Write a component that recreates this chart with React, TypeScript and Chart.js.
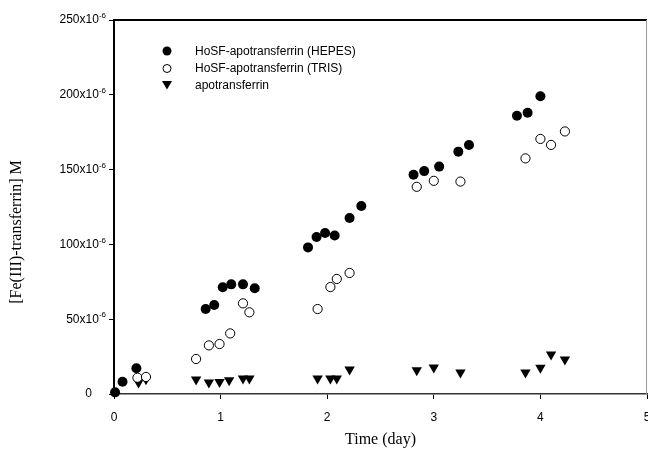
import React, { useEffect, useRef } from "react";
import { Chart, registerables } from "chart.js";

Chart.register(...registerables);

// Time (day) and [Fe(III)-transferrin] in units of 10^-6 M
const hepesX = [0.01, 0.08, 0.21, 0.86, 0.94, 1.02, 1.1, 1.21, 1.32, 1.82, 1.9, 1.98, 2.07, 2.21, 2.32, 2.81, 2.91, 3.05, 3.23, 3.33, 3.78, 3.88, 4.0];
const hepesY = [1.1, 8.2, 17.2, 56.8, 59.5, 71.3, 73.3, 73.3, 70.7, 98, 105, 107.6, 106, 117.6, 125.7, 146.5, 149, 152, 162, 166.5, 186, 188, 199];

const trisX = [0.22, 0.3, 0.77, 0.89, 0.99, 1.09, 1.21, 1.27, 1.91, 2.03, 2.09, 2.21, 2.84, 3.0, 3.25, 3.86, 4.0, 4.1, 4.23];
const trisY = [10.9, 11.4, 23.4, 32.5, 33.4, 40.5, 60.6, 54.6, 56.8, 71.5, 76.9, 80.9, 138.5, 142.5, 142, 157.5, 170.5, 166.5, 175.5];

const apoX = [0.23, 0.3, 0.77, 0.89, 0.99, 1.08, 1.21, 1.27, 1.91, 2.03, 2.09, 2.21, 2.84, 3.0, 3.25, 3.86, 4.0, 4.1, 4.23];
const apoY = [7.7, 9.9, 9.7, 7.7, 8.1, 9.2, 10.4, 10.4, 10.4, 10.4, 10.4, 16.4, 15.9, 17.7, 14.4, 14.4, 17.5, 26.4, 23.1];

const yTickValues = [0, 50, 100, 150, 200, 250];
const xTickValues = [0, 1, 2, 3, 4, 5];

const seriesLabels = ["HoSF-apotransferrin (HEPES)", "HoSF-apotransferrin (TRIS)", "apotransferrin"];
const xTitle = "Time (day)";
const yTitle = "[Fe(III)-transferrin] M";

const SANS = "'Liberation Sans', Arial, sans-serif";
const SERIF = "'Liberation Serif', 'Times New Roman', serif";

const toPoints = (xs: number[], ys: number[]) => xs.map((x, i) => ({ x, y: ys[i] }));

const decorPlugin = {
  id: "decor",
  afterDraw(chart: any) {
    const ctx = chart.ctx as CanvasRenderingContext2D;
    const area = chart.chartArea;
    const ys = chart.scales.y;
    const xs = chart.scales.x;
    ctx.save();
    // top and right frame
    ctx.strokeStyle = "#000";
    ctx.lineWidth = 2;
    ctx.beginPath();
    ctx.moveTo(area.left, area.top);
    ctx.lineTo(area.right, area.top);
    ctx.stroke();
    ctx.strokeStyle = "#999";
    ctx.lineWidth = 1;
    ctx.beginPath();
    ctx.moveTo(area.right - 0.5, area.top);
    ctx.lineTo(area.right - 0.5, area.bottom);
    ctx.stroke();

    // y tick labels with superscript exponent
    ctx.fillStyle = "#000";
    ctx.textBaseline = "middle";
    for (const v of yTickValues) {
      const py = ys.getPixelForValue(v);
      const right = area.left - 8;
      if (v === 0) {
        ctx.font = `12px ${SANS}`;
        ctx.textAlign = "right";
        ctx.fillText("0", right - 14, py);
        continue;
      }
      ctx.font = `8px ${SANS}`;
      const sup = "-6";
      const supW = ctx.measureText(sup).width;
      ctx.textAlign = "left";
      ctx.fillText(sup, right - supW, py - 4);
      ctx.font = `12px ${SANS}`;
      ctx.textAlign = "right";
      ctx.fillText(`${v}x10`, right - supW, py);
    }

    // x tick labels
    ctx.font = `12px ${SANS}`;
    ctx.textAlign = "center";
    ctx.textBaseline = "middle";
    for (const v of xTickValues) {
      ctx.fillText(String(v), xs.getPixelForValue(v), 418);
    }

    // axis titles
    ctx.font = `16px ${SERIF}`;
    ctx.textAlign = "center";
    ctx.textBaseline = "middle";
    ctx.fillText(xTitle, (area.left + area.right) / 2, 440);
    ctx.save();
    ctx.translate(17, 232);
    ctx.rotate(-Math.PI / 2);
    ctx.fillText(yTitle, 0, 0);
    ctx.restore();

    // legend
    const lx = 167;
    const tx = 195;
    const rows = [51, 68.5, 85];
    ctx.font = `12px ${SANS}`;
    ctx.textAlign = "left";
    ctx.textBaseline = "middle";
    rows.forEach((ry, i) => {
      ctx.fillStyle = "#000";
      ctx.strokeStyle = "#000";
      ctx.lineWidth = 1;
      if (i === 0) {
        ctx.beginPath();
        ctx.arc(lx, ry, 4.5, 0, Math.PI * 2);
        ctx.fill();
      } else if (i === 1) {
        ctx.beginPath();
        ctx.arc(lx, ry, 4, 0, Math.PI * 2);
        ctx.fillStyle = "#fff";
        ctx.fill();
        ctx.stroke();
      } else {
        ctx.beginPath();
        ctx.moveTo(lx - 5, ry - 4);
        ctx.lineTo(lx + 5, ry - 4);
        ctx.lineTo(lx, ry + 4.5);
        ctx.closePath();
        ctx.fill();
      }
      ctx.fillStyle = "#000";
      ctx.fillText(seriesLabels[i], tx, ry + 0.5);
    });
    ctx.restore();
  },
};

export default function App() {
  const ref = useRef<HTMLCanvasElement | null>(null);

  useEffect(() => {
    if (!ref.current) return;
    const chart = new Chart(ref.current, {
      type: "scatter",
      data: {
        datasets: [
          {
            label: seriesLabels[0],
            data: toPoints(hepesX, hepesY),
            pointStyle: "circle",
            pointRadius: 5,
            backgroundColor: "#000",
            borderColor: "#000",
            borderWidth: 0,
            clip: false,
          } as any,
          {
            label: seriesLabels[1],
            data: toPoints(trisX, trisY),
            pointStyle: "circle",
            pointRadius: 4.6,
            backgroundColor: "#fff",
            borderColor: "#000",
            borderWidth: 1,
            clip: false,
          } as any,
          {
            label: seriesLabels[2],
            data: toPoints(apoX, apoY),
            pointStyle: "triangle",
            pointRotation: 180,
            pointRadius: 6,
            backgroundColor: "#000",
            borderColor: "#000",
            borderWidth: 0,
            clip: false,
          } as any,
        ],
      },
      options: {
        responsive: false,
        animation: false,
        layout: { autoPadding: false, padding: { top: 20, right: 1, left: 0, bottom: 0 } },
        plugins: {
          legend: { display: false },
          tooltip: { enabled: false },
          title: { display: false },
        },
        scales: {
          x: {
            type: "linear",
            min: 0,
            max: 5,
            afterBuildTicks: (scale: any) => {
              scale.ticks = xTickValues.map((v) => ({ value: v }));
            },
            ticks: { display: false, stepSize: 1 },
            grid: {
              display: true,
              drawOnChartArea: false,
              drawTicks: true,
              tickLength: 5,
              color: "#000",
              lineWidth: 1,
            },
            border: { display: true, color: "#333", width: 1.5 },
            afterFit: (scale: any) => {
              scale.height = 55;
              scale.paddingLeft = 0;
              scale.paddingRight = 0;
            },
          } as any,
          y: {
            type: "linear",
            min: 0,
            max: 250,
            afterBuildTicks: (scale: any) => {
              scale.ticks = yTickValues.map((v) => ({ value: v }));
            },
            ticks: { display: false, stepSize: 50 },
            grid: {
              display: true,
              drawOnChartArea: false,
              drawTicks: true,
              tickLength: 5,
              color: "#000",
              lineWidth: 1,
            },
            border: { display: true, color: "#000", width: 2 },
            afterFit: (scale: any) => {
              scale.width = 114;
              scale.paddingTop = 0;
              scale.paddingBottom = 0;
            },
          } as any,
        },
      },
      plugins: [decorPlugin],
    });
    return () => chart.destroy();
  }, []);

  return (
    <div style={{ position: "absolute", left: 0, top: 0, width: 648, height: 449, background: "#fff" }}>
      <canvas ref={ref} width={648} height={449} style={{ display: "block" }} />
    </div>
  );
}
